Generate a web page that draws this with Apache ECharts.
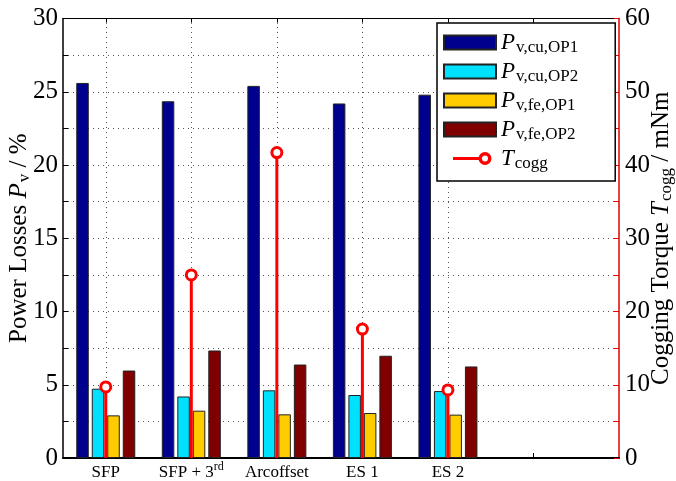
<!DOCTYPE html>
<html><head><meta charset="utf-8">
<script src="https://cdn.jsdelivr.net/npm/echarts@6/dist/echarts.min.js"></script>
<style>html,body{margin:0;padding:0;background:#fff}#c{width:676px;height:481px}</style>
</head><body><div id="c"></div>
<script>
// ---- data ----
const categories = ['SFP', 'SFP + 3rd', 'Arcoffset', 'ES 1', 'ES 2'];
const categoryPositions = [1, 2, 3, 4, 5];
const xTickValues = [1, 2, 3, 4, 5, 6];
const pCuOP1 = [25.6, 24.35, 25.4, 24.2, 24.8];
const pCuOP2 = [4.73, 4.2, 4.62, 4.3, 4.57];
const pFeOP1 = [2.91, 3.23, 2.98, 3.07, 2.96];
const pFeOP2 = [5.97, 7.34, 6.38, 6.98, 6.25];
const tCogg = [9.7, 25.0, 41.7, 17.6, 9.3];
const seriesNames = ['Pv,cu,OP1', 'Pv,cu,OP2', 'Pv,fe,OP1', 'Pv,fe,OP2', 'Tcogg'];
const legendLabels = {
  'Pv,cu,OP1': '{i|P}{s|v,cu,OP1}',
  'Pv,cu,OP2': '{i|P}{s|v,cu,OP2}',
  'Pv,fe,OP1': '{i|P}{s|v,fe,OP1}',
  'Pv,fe,OP2': '{i|P}{s|v,fe,OP2}',
  'Tcogg': '{i|T}{s|cogg}'
};

const F = 'Liberation Serif';
function pairs(vals) { return vals.map((v, i) => [categoryPositions[i], v]); }
function catLabel(v) {
  const idx = categoryPositions.indexOf(v);
  if (idx < 0) return '';
  const t = categories[idx];
  const m = t.match(/^(.*\d)(st|nd|rd|th)$/);
  return m ? '{n|' + m[1] + '}{sup|' + m[2] + '}' : '{n|' + t + '}';
}
const gridLine = { color: '#555', type: [1, 4], width: 1 };
const barCommon = { type: 'bar', xAxisIndex: 0, yAxisIndex: 0, barWidth: 12.5, barGap: '24%' };
const colors = ['#00008f', '#00e0ff', '#ffcc00', '#800000'];
const valuesList = [pCuOP1, pCuOP2, pFeOP1, pFeOP2];

const bars = valuesList.map((vals, k) => Object.assign({}, barCommon, {
  name: seriesNames[k],
  data: pairs(vals),
  itemStyle: { color: colors[k], borderColor: '#222', borderWidth: 1 }
}));

const ringIcon = 'path://M0,0L0,0M52,14L52,14M9,5.6H35.5V8.4H9Z' +
  'M47.5,7A6.5,6.5 0 1,1 34.5,7A6.5,6.5 0 1,1 47.5,7Z' +
  'M44,7A3,3 0 1,0 38,7A3,3 0 1,0 44,7Z';

const titleRich = {
  t: { fontFamily: F, fontSize: 25, color: '#000', lineHeight: 26 },
  i: { fontFamily: F, fontSize: 25, fontStyle: 'italic', color: '#000', lineHeight: 26 },
  s: { fontFamily: F, fontSize: 17, color: '#000', padding: [12, 0, 0, 1], lineHeight: 26 }
};

const chart = echarts.init(document.getElementById('c'), null, { renderer: 'canvas' });
chart.setOption({
  animation: false,
  backgroundColor: '#fff',
  grid: { left: 63, right: 57, top: 18.5, bottom: 23, containLabel: false, outerBoundsMode: 'none' },
  xAxis: [{
    type: 'value', min: 0.5, max: 7, position: 'bottom',
    axisLine: { show: true, onZero: false, lineStyle: { color: '#000', width: 2 } },
    axisTick: { show: true, inside: true, length: 5, customValues: xTickValues, lineStyle: { color: '#000' } },
    axisLabel: {
      show: true, customValues: categoryPositions, formatter: catLabel, margin: 6,
      rich: {
        n: { fontFamily: F, fontSize: 17, color: '#000' },
        sup: { fontFamily: F, fontSize: 12, color: '#000', padding: [0, 0, 12, 0], lineHeight: 17 }
      }
    },
    splitLine: { show: false }
  }, {
    type: 'value', min: 0.5, max: 7, position: 'top',
    axisLine: { show: true, onZero: false, lineStyle: { color: '#000', width: 1 } },
    axisTick: { show: true, inside: true, length: 5, customValues: xTickValues, lineStyle: { color: '#000' } },
    axisLabel: { show: false },
    splitLine: { show: false }
  }],
  yAxis: [{
    type: 'value', min: 0, max: 30, interval: 2.5, position: 'left',
    axisLine: { show: true, lineStyle: { color: '#000', width: 1.5 } },
    axisTick: { show: true, inside: true, length: 5, lineStyle: { color: '#000' } },
    axisLabel: { color: '#000', fontFamily: F, fontSize: 25, margin: 5,
      formatter: v => (v % 5 === 0 ? String(v) : '') },
    splitLine: { show: true, lineStyle: gridLine },
    name: '{t|Power Losses }{i|P}{s|v}{t| / %}',
    nameLocation: 'middle', nameRotate: 90, nameGap: 31, nameMoveOverlap: false,
    nameTextStyle: { rich: titleRich }
  }, {
    type: 'value', min: 0, max: 60, interval: 5, position: 'right',
    axisLine: { show: true, lineStyle: { color: '#e00000', width: 1.5 } },
    axisTick: { show: true, inside: true, length: 5, lineStyle: { color: '#e00000' } },
    axisLabel: { color: '#000', fontFamily: F, fontSize: 25, margin: 6,
      formatter: v => (v % 10 === 0 ? String(v) : '') },
    splitLine: { show: false },
    name: '{t|Cogging Torque }{i|T}{s|cogg}{t| / mNm}',
    nameLocation: 'middle', nameRotate: 90, nameGap: 29, nameMoveOverlap: false,
    nameTextStyle: { rich: titleRich }
  }],
  legend: {
    orient: 'vertical', left: 437, top: 23,
    padding: [6, 37, 9, 6],
    itemWidth: 52, itemHeight: 14, itemGap: 2,
    backgroundColor: '#fff', borderColor: '#000', borderWidth: 1.5, borderRadius: 0,
    data: [
      { name: seriesNames[0], icon: 'rect' }, { name: seriesNames[1], icon: 'rect' },
      { name: seriesNames[2], icon: 'rect' }, { name: seriesNames[3], icon: 'rect' },
      { name: seriesNames[4], icon: ringIcon, itemStyle: { color: '#ff0000', borderWidth: 0 } }
    ],
    formatter: n => legendLabels[n],
    textStyle: {
      color: '#000',
      rich: {
        i: { fontFamily: F, fontSize: 23, fontStyle: 'italic', color: '#000', lineHeight: 20 },
        s: { fontFamily: F, fontSize: 17, color: '#000', padding: [10, 0, 0, 1], lineHeight: 20 }
      }
    }
  },
  series: bars.concat([{
    type: 'bar', name: 'stem', xAxisIndex: 1, yAxisIndex: 1, barWidth: 3, z: 10,
    data: pairs(tCogg), itemStyle: { color: '#ff0000' },
    markLine: {
      silent: true, symbol: 'none', label: { show: false }, z: 1,
      lineStyle: gridLine,
      data: categoryPositions.map(p => ({ xAxis: p }))
    }
  }, {
    type: 'scatter', name: seriesNames[4], xAxisIndex: 1, yAxisIndex: 1, z: 11,
    data: pairs(tCogg), symbol: 'circle', symbolSize: 10,
    itemStyle: { color: '#fff', borderColor: '#ff0000', borderWidth: 3, opacity: 1 }
  }])
});
</script>
</body></html>
